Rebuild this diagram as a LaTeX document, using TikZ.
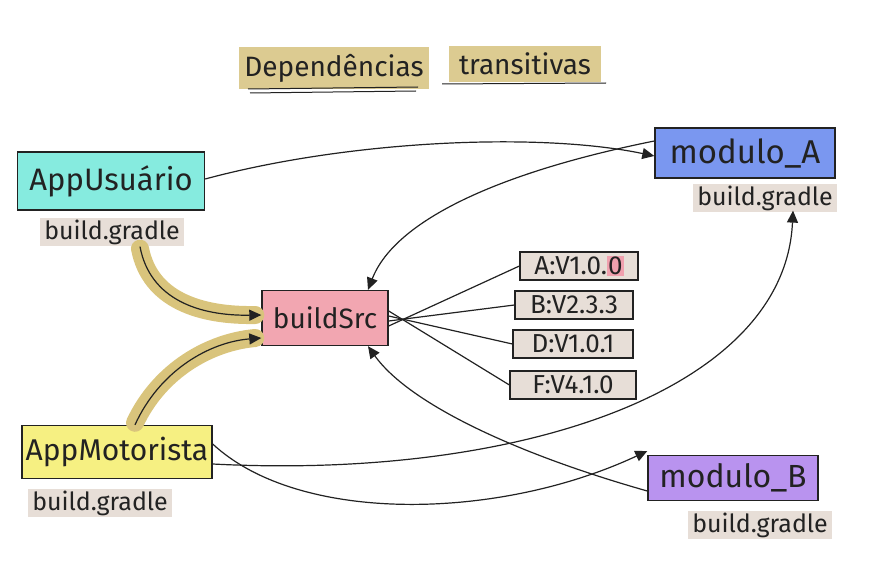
\documentclass[tikz,border=0pt]{standalone}
\usepackage{fontspec}
\setmainfont{Fira Sans}
\usetikzlibrary{arrows.meta}
\definecolor{ink}{HTML}{222222}
\definecolor{cyanbox}{HTML}{86EBDF}
\definecolor{bluebox}{HTML}{7A97F0}
\definecolor{pinkbox}{HTML}{F2A6B1}
\definecolor{yellowbox}{HTML}{F6F082}
\definecolor{purplebox}{HTML}{B993EF}
\definecolor{beige}{HTML}{E7DED7}
\definecolor{olive}{HTML}{D9C47C}
\definecolor{titlehl}{HTML}{DCCB91}
\definecolor{pinkhl}{HTML}{F0A0AE}
\begin{document}
\begin{tikzpicture}[x=1pt,y=-1pt,
  box/.style={draw=ink, line width=1.4pt, inner sep=0pt, text=ink, font=\fontsize{31}{33}\selectfont},
  gradle/.style={fill=beige, inner xsep=4pt, inner ysep=2pt, text=ink, font=\fontsize{25}{27}\selectfont},
  ver/.style={draw=ink, fill=beige, line width=1.2pt, inner sep=0pt, minimum height=28pt, text=ink, font=\fontsize{26}{28}\selectfont},
  conn/.style={draw=ink, line width=1.2pt, -{Triangle[length=12pt,width=11pt]}},
  plain/.style={draw=ink, line width=1.2pt},
  band/.style={draw=olive, line width=18pt, line cap=round},
  titlebox/.style={fill=titlehl, inner xsep=5pt, inner ysep=7pt, text=ink, font=\fontsize{28}{30}\selectfont},
  uline/.style={draw=ink, line width=1pt}]
\useasboundingbox (0,0) rectangle (870,575);

% title
\node[titlebox] (t1) at (334,68) {Dependências};
\node[titlebox, inner xsep=10pt] (t2) at (525,64) {transitivas};
\draw[uline] (248,89) -- (418,87);
\draw[uline] (250,93) -- (416,91);
\draw[uline] (442,84) -- (606,83);

% boxes
\node[box, fill=cyanbox, minimum width=187pt, minimum height=58pt] (appu) at (111,181) {AppUsuário};
\node[gradle] (gu) at (112,232) {build.gradle};
\node[box, fill=bluebox, minimum width=180pt, minimum height=50pt, font=\fontsize{33}{35}\selectfont] (moda) at (745,153) {modulo\_A};
\node[gradle] (ga) at (765,198) {build.gradle};
\node[box, fill=pinkbox, minimum width=126pt, minimum height=55pt, font=\fontsize{28}{30}\selectfont] (bsrc) at (325,318) {buildSrc};
\node[ver, minimum width=118pt] (va) at (579,266) {A:V1.0.{\setlength\fboxsep{1pt}\colorbox{pinkhl}{0}}};
\node[ver, minimum width=118pt] (vb) at (574,305) {B:V2.3.3};
\node[ver, minimum width=120pt] (vd) at (573,344) {D:V1.0.1};
\node[ver, minimum width=126pt] (vf) at (573,385) {F:V4.1.0};
\node[box, fill=yellowbox, minimum width=190pt, minimum height=53pt, font=\fontsize{30}{32}\selectfont] (appm) at (117,452) {AppMotorista};
\node[gradle] (gm) at (100,503) {build.gradle};
\node[box, fill=purplebox, minimum width=170pt, minimum height=45pt, font=\fontsize{32}{34}\selectfont] (modb) at (733,478) {modulo\_B};
\node[gradle] (gb) at (760,525) {build.gradle};

\coordinate (bsl1) at ([yshift=3pt]bsrc.west);
\coordinate (bsl2) at ([yshift=-20pt]bsrc.west);

% thick bands into buildSrc
\draw[band] ([xshift=28pt,yshift=-2pt]gu.south) .. controls (150,300) and (200,316) .. ([xshift=-6pt]bsl1);
\draw[band] ([xshift=18pt,yshift=2pt]appm.north) .. controls (160,370) and (210,342) .. ([xshift=-6pt]bsl2);
\draw[conn] ([xshift=28pt]gu.south) .. controls (150,300) and (200,316) .. (bsl1);
\draw[conn] ([xshift=18pt]appm.north) .. controls (160,370) and (210,342) .. (bsl2);

% buildSrc to versions
\draw[plain] ([yshift=-8pt]bsrc.east) -- (va.west);
\draw[plain] ([yshift=-3pt]bsrc.east) -- (vb.west);
\draw[plain] ([yshift=2pt]bsrc.east) -- (vd.west);
\draw[plain] ([yshift=7pt]bsrc.east) -- (vf.west);

% other connectors
\draw[conn] ([yshift=2pt]appu.east) .. controls (350,140) and (540,132) .. ([yshift=-3pt]moda.west);
\draw[conn] ([yshift=12pt]moda.west) .. controls (500,172) and (395,220) .. ([xshift=43pt]bsrc.north);
\draw[conn] ([yshift=-12pt]appm.east) .. controls (520,480) and (785,390) .. ([xshift=28pt,yshift=2pt]ga.south);
\draw[conn] ([yshift=8pt]appm.east) .. controls (300,525) and (500,520) .. ([yshift=27pt]modb.west);
\draw[conn] ([yshift=-13pt]modb.west) .. controls (520,455) and (410,405) .. ([xshift=43pt]bsrc.south);
\end{tikzpicture}
\end{document}
